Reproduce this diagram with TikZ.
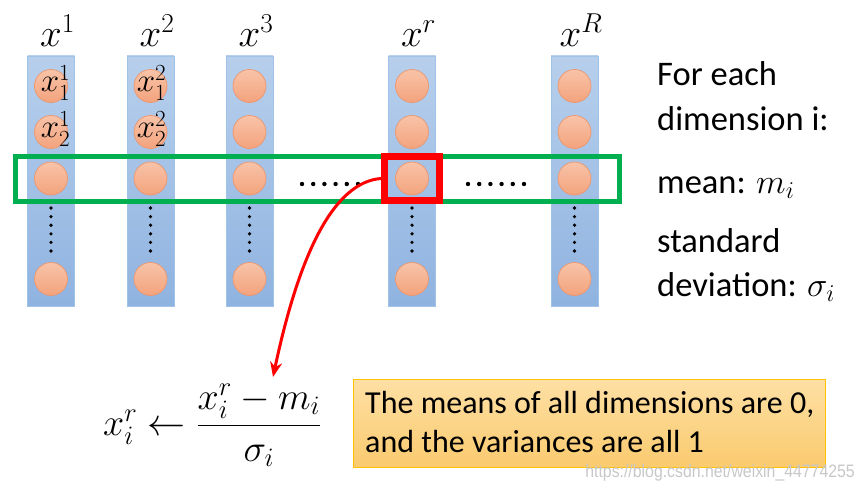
\RequirePackage{fix-cm}
\documentclass[tikz,border=0pt]{standalone}
\usepackage{amsmath}
\usepackage[no-math]{fontspec}
\setmainfont{Carlito}
\newfontfamily\wmfont[FakeStretch=0.88]{Liberation Sans}
\usetikzlibrary{arrows.meta}
\definecolor{colTop}{RGB}{183,207,236}
\definecolor{colBot}{RGB}{143,179,224}
\definecolor{colLine}{RGB}{160,196,232}
\definecolor{dotTop}{RGB}{248,195,168}
\definecolor{dotBot}{RGB}{243,163,125}
\definecolor{dotLine}{RGB}{236,150,110}
\definecolor{hlGreen}{RGB}{0,176,80}
\definecolor{boxTop}{RGB}{254,224,165}
\definecolor{boxBot}{RGB}{250,202,110}
\definecolor{boxLine}{RGB}{255,192,0}
\begin{document}
\begin{tikzpicture}[x=1pt,y=-1pt,
  colbox/.style={rectangle, draw=colLine, line width=0.8pt, top color=colTop, bottom color=colBot, minimum width=47pt, minimum height=250pt, inner sep=0pt},
  unit/.style={circle, draw=dotLine, line width=0.7pt, top color=dotTop, bottom color=dotBot, minimum size=33pt, inner sep=0pt},
  toplbl/.style={font=\fontsize{39}{42}\selectfont, inner sep=0pt, anchor=base},
  unitlbl/.style={font=\fontsize{33}{36}\selectfont, inner sep=0pt, anchor=base},
  sidetxt/.style={font=\fontsize{34.5}{40}\selectfont, inner sep=0pt, anchor=base west},
  boxtxt/.style={font=\fontsize{32}{39}\selectfont, inner sep=0pt, anchor=base west},
  greenbox/.style={draw=hlGreen, line width=5pt},
  redbox/.style={rectangle, draw=red, line width=7pt, minimum width=55pt, minimum height=44pt, inner sep=0pt},
  arrowline/.style={draw=red, line width=3pt, -{Stealth[length=15pt,width=12pt]}},
  notebox/.style={rectangle, draw=boxLine, line width=0.8pt, top color=boxTop, bottom color=boxBot, minimum width=472pt, minimum height=88pt, inner sep=0pt},
  ]
\useasboundingbox (0,0) rectangle (866,489);

% columns
\foreach \n/\cx in {1/51,2/150.5,3/249.5,r/412,R/574.5}{
  \node[colbox] (col\n) at (\cx,181) {};
  \node[unit] (u\n a) at (\cx,86) {};
  \node[unit] (u\n b) at (\cx,132) {};
  \node[unit] (u\n c) at (\cx,178.5) {};
  \node[unit] (u\n d) at (\cx,279) {};
  \node[toplbl] (lbl\n) at (\cx+6.5,47) {$x^{\n}$};
  \foreach \k in {0,...,5}{
    \fill (\cx,208+\k*8.6) circle[radius=1.8pt];
  }
}

% labels inside units
\node[unitlbl] (l11) at (55.5,92) {$x_1^1$};
\node[unitlbl] (l21) at (55.5,138) {$x_2^1$};
\node[unitlbl] (l12) at (151.5,92) {$x_1^2$};
\node[unitlbl] (l22) at (151.5,138) {$x_2^2$};

% horizontal dots
\foreach \k in {0,...,5}{
  \fill (302+\k*11.2,184) circle[radius=2.2pt];
  \fill (468+\k*11.2,184) circle[radius=2.2pt];
}

% green highlight
\draw[greenbox] (15.5,156.5) rectangle (619.5,201.5);
% red selection
\node[redbox] (sel) at (412,178.5) {};

% right-hand text
\node[sidetxt] (t1) at (657,86) {For each};
\node[sidetxt] (t2) at (657,131) {dimension i:};
\node[sidetxt] (t3) at (657,193) {mean: $m_i$};
\node[sidetxt] (t4) at (657,252) {standard};
\node[sidetxt] (t5) at (657,296) {deviation: $\sigma_i$};

% formula
\node[anchor=base west, inner sep=0pt, font=\fontsize{38}{42}\selectfont] (formula) at (103,435) {$x_i^r \leftarrow \dfrac{x_i^r - m_i}{\sigma_i}$};

% note box
\node[notebox] (note) at (589,423) {};
\node[boxtxt] (n1) at (365,413) {The means of all dimensions are 0,};
\node[boxtxt] (n2) at (365,452) {and the variances are all 1};

% watermark
\node[anchor=base east, inner sep=0pt, font=\wmfont\fontsize{18}{20}\selectfont, text=black!22] (wm) at (855,477) {https://blog.csdn.net/weixin\_44774255};

% arrow
\coordinate (tip) at (273,377);
\draw[arrowline] (sel.west) .. controls (335,182) and (300,250) .. (tip);
\end{tikzpicture}
\end{document}
